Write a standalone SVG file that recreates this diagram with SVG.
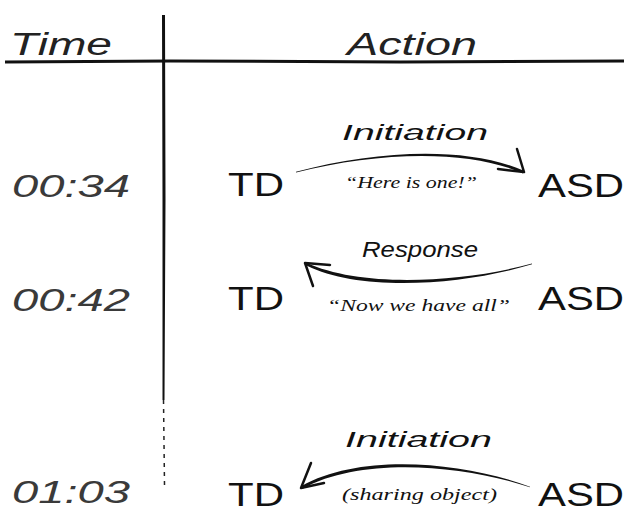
<svg xmlns="http://www.w3.org/2000/svg" width="624" height="514" viewBox="0 0 624 514">
<style>
text{font-family:"Liberation Sans","DejaVu Sans",sans-serif}
.hd{font-size:31px;fill:#222;font-style:italic}
.tm{font-size:31px;fill:#3a3a3a;font-style:italic}
.nd{font-size:33px;fill:#111}
.lb{font-size:22px;fill:#111;font-style:italic}
.sm{font-family:"Liberation Serif","DejaVu Serif",serif;font-size:17px;fill:#111;font-style:italic}
.ar{fill:none;stroke:#111;stroke-linecap:round;stroke-linejoin:round}
.br{fill:#111;stroke:none}
</style>
<g id="table">
<text class="hd" x="10" y="55" textLength="102" lengthAdjust="spacingAndGlyphs">Time</text>
<text class="hd" x="347" y="55" textLength="130" lengthAdjust="spacingAndGlyphs">Action</text>
<path d="M5,62 L170,61 L400,62 L624,61" stroke="#111" stroke-width="3" fill="none"/>
<path d="M162,15 L165,15 L165.5,200 L164.5,400 L162.5,400 L162.5,200 Z" fill="#111"/>
<path d="M163.5,400 L164.5,485" stroke="#222" stroke-width="1.5" stroke-dasharray="4,5" fill="none"/>
</g>
<g id="times">
<text class="tm" x="12" y="197" textLength="118" lengthAdjust="spacingAndGlyphs">00:34</text>
<text class="tm" x="12" y="311" textLength="118" lengthAdjust="spacingAndGlyphs">00:42</text>
<text class="tm" x="12" y="503" textLength="118" lengthAdjust="spacingAndGlyphs">01:03</text>
</g>
<g id="td1"><text class="nd" x="228" y="196" textLength="56" lengthAdjust="spacingAndGlyphs">TD</text></g>
<g id="asd1"><text class="nd" x="538" y="197" textLength="86" lengthAdjust="spacingAndGlyphs">ASD</text></g>
<g id="td2"><text class="nd" x="228" y="310" textLength="56" lengthAdjust="spacingAndGlyphs">TD</text></g>
<g id="asd2"><text class="nd" x="538" y="310" textLength="86" lengthAdjust="spacingAndGlyphs">ASD</text></g>
<g id="td3"><text class="nd" x="228" y="506" textLength="56" lengthAdjust="spacingAndGlyphs">TD</text></g>
<g id="asd3"><text class="nd" x="538" y="506" textLength="86" lengthAdjust="spacingAndGlyphs">ASD</text></g>
<g id="connectors">
<path class="br" d="M296,171.8 C380,149 470,146.5 524.5,171 L523,173.5 C470,149.5 380,151 296,172.6 Z"/>
<path class="ar" d="M517,149 L524,172 L498,169" stroke-width="2.5"/>
<text class="lb" x="342" y="140" textLength="146" lengthAdjust="spacingAndGlyphs">Initiation</text>
<text class="sm" x="345" y="188" textLength="132" lengthAdjust="spacingAndGlyphs">“Here is one!”</text>
<path class="br" d="M532,263.6 C460,283 360,288 306,262.5 L306.5,265.5 C360,292 460,286 532,264.3 Z"/>
<path class="ar" d="M330,265 L305,263 L313,286" stroke-width="2.5"/>
<text class="lb" x="362" y="257" textLength="116" lengthAdjust="spacingAndGlyphs">Response</text>
<text class="sm" x="327" y="311" textLength="183" lengthAdjust="spacingAndGlyphs">“Now we have all”</text>
<path class="br" d="M530,486.7 C460,461 360,453 301.5,486 L303,488.5 C360,457 460,464 530,487.3 Z"/>
<path class="ar" d="M311,463 L301,488 L324,483" stroke-width="2.5"/>
<text class="lb" x="345" y="447" textLength="147" lengthAdjust="spacingAndGlyphs">Initiation</text>
<text class="sm" x="342" y="500" textLength="155" lengthAdjust="spacingAndGlyphs">(sharing object)</text>
</g>
</svg>
